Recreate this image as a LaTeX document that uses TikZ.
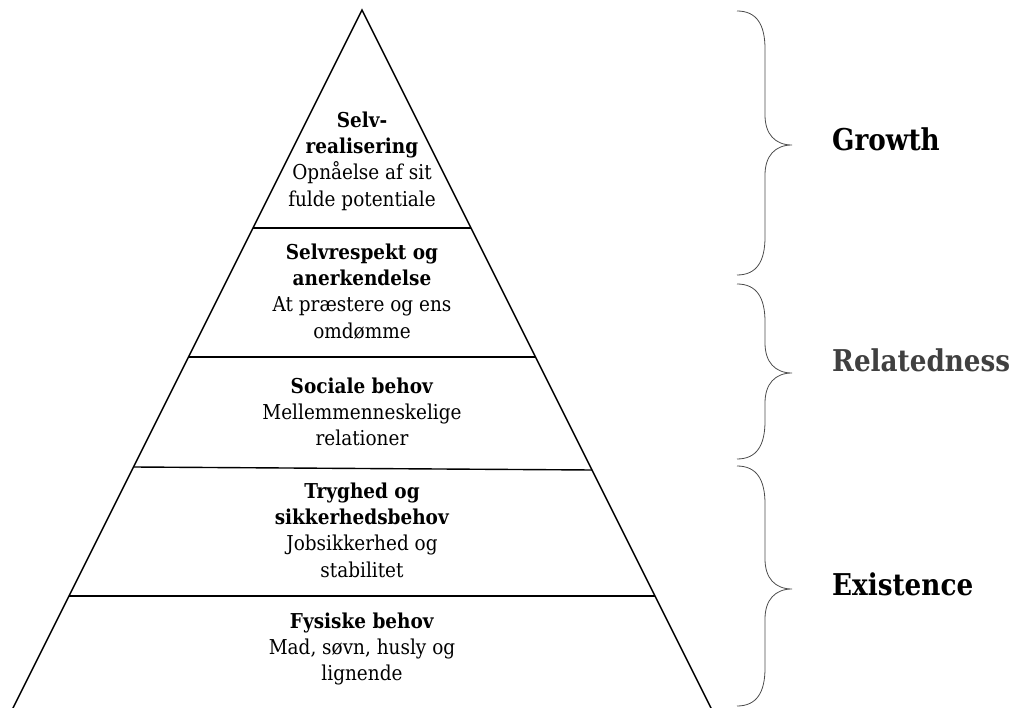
\documentclass[tikz,border=0pt]{standalone}
\usepackage{fontspec}
\setmainfont{DejaVu Serif}[FakeStretch=0.9]
\newfontfamily\grpfont{DejaVu Serif}[FakeStretch=0.875]
\begin{document}
\begin{tikzpicture}[x=1pt,y=-1pt,
  tier/.style={align=center,inner sep=0pt,font={\fontsize{20.5}{26.3}\selectfont}},
  grp/.style={anchor=base west,inner sep=0pt,font={\grpfont\fontsize{30}{34}\selectfont\bfseries}},
  pyr/.style={line width=1.4pt,black},
  brc/.style={line width=0.8pt,black!70}]
\useasboundingbox (0,0) rectangle (1015,708);
% pyramid
\coordinate (apex) at (362,10);
\coordinate (bl) at (11,712);
\coordinate (br) at (713,712);
\draw[pyr] (bl) -- (apex) -- (br);
\coordinate (l1) at (253,228); \coordinate (r1) at (471,228);
\coordinate (l2) at (188.5,357); \coordinate (r2) at (535.5,357);
\coordinate (l3) at (133.5,467); \coordinate (r3) at (592,470);
\coordinate (l4) at (69,596); \coordinate (r4) at (655,596);
\draw[pyr] (l1) -- (r1);
\draw[pyr] (l2) -- (r2);
\draw[pyr] (l3) -- (r3);
\draw[pyr] (l4) -- (r4);
% tier texts
\node[tier] (t1) at (362,161) {\textbf{Selv-}\\\textbf{realisering}\\Opnåelse af sit\\fulde potentiale};
\node[tier] (t2) at (362,291.5) {\textbf{Selvrespekt og}\\\textbf{anerkendelse}\\At præstere og ens\\omdømme};
\node[tier] (t3) at (362,412) {\textbf{Sociale behov}\\Mellemmenneskelige\\relationer};
\node[tier] (t4) at (362,530) {\textbf{Tryghed og}\\\textbf{sikkerhedsbehov}\\Jobsikkerhed og\\stabilitet};
\node[tier] (t5) at (362,649) {\textbf{Fysiske behov}\\Mad, søvn, husly og\\lignende};
% braces
\newcommand\mybrace[3]{%
  \draw[brc] (737,#1) .. controls (757,#1) and (765,#1+14) .. (765,#1+38)
    -- (765,#2-30) .. controls (765,#2-11) and (775,#2) .. (792,#2)
    .. controls (775,#2) and (765,#2+11) .. (765,#2+30)
    -- (765,#3-38) .. controls (765,#3-14) and (757,#3) .. (737,#3);}
\mybrace{11}{145}{275}
\mybrace{284}{373}{459}
\mybrace{466}{589}{706}
% group labels
\node[grp] (g) at (832,151) {Growth};
\node[grp,text=black!75] (r) at (832,372) {Relatedness};
\node[grp] (e) at (832,595) {Existence};
\end{tikzpicture}
\end{document}
